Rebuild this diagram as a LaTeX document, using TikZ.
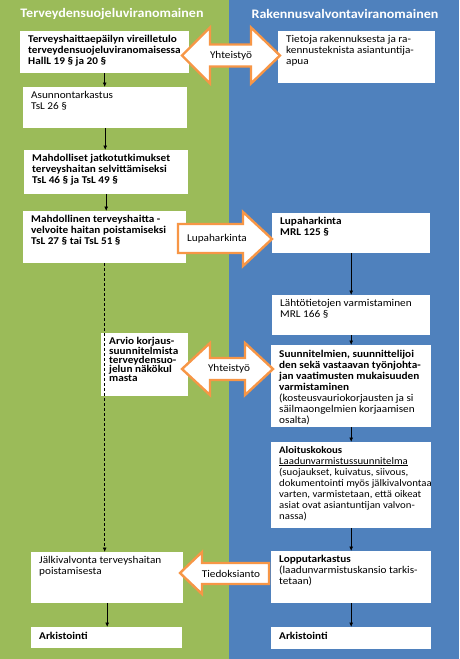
\documentclass[tikz,border=0pt]{standalone}
\usepackage{fontspec}
\setmainfont{Carlito}[FakeStretch=1.08]
\usetikzlibrary{arrows.meta}
\definecolor{grn}{HTML}{9BBB59}
\definecolor{blu}{HTML}{4F81BD}
\definecolor{org}{HTML}{F79646}
\newcommand\tb[3]{\parbox[c][#2][t]{#1}{\raggedright #3}}
\newcommand\LLn[1]{\mbox{#1}}
\begin{document}
\begin{tikzpicture}[x=1pt,y=-1pt,
  box/.style={fill=white, anchor=north west, inner xsep=8pt, inner ysep=4pt, font=\fontsize{10.4}{11}\selectfont},
  conn/.style={draw=black, line width=0.8pt, -{Latex[length=4.5pt,width=4pt]}},
  dconn/.style={conn, dash pattern=on 3pt off 2pt},
  fat/.style={draw=org, line width=2.4pt, fill=white, line join=miter},
  fattext/.style={font=\fontsize{10.4}{11}\selectfont, inner sep=0pt},
  head/.style={font=\fontsize{13}{15}\selectfont\bfseries, text=white}]
\useasboundingbox (0,0) rectangle (459,659);
\fill[grn] (0,0) rectangle (229,659);
\fill[blu] (229,0) rectangle (459,659);
\node[head] (hl) at (112,14) {Terveydensuojeluviranomainen};
\node[head] (hr) at (345,14) {Rakennusvalvontaviranomainen};
% left column
\node[box] (L1) at (20,31) {\tb{153pt}{34pt}{\bfseries \LLn{Terveyshaittaepäilyn vireilletulo}\\ \LLn{terveydensuojeluviranomaisessa}\\ \LLn{HallL 19 § ja 20 §}}};
\node[box] (L2) at (23,87) {\tb{148pt}{33pt}{Asunnontarkastus\\ TsL 26 §}};
\node[box] (L3) at (24,150) {\tb{148pt}{36pt}{\bfseries \LLn{Mahdolliset jatkotutkimukset}\\ \LLn{terveyshaitan selvittämiseksi}\\ \LLn{TsL 46 § ja TsL 49 §}}};
\node[box] (L4) at (23,211) {\tb{147pt}{44pt}{\bfseries \LLn{Mahdollinen terveyshaitta -}\\ \LLn{velvoite haitan poistamiseksi}\\ \LLn{TsL 27 § tai TsL 51 §}}};
\node[box, font=\fontsize{10.4}{9}\selectfont] (L5) at (101,333) {\tb{71pt}{55pt}{\bfseries \LLn{Arvio korjaus-}\\ \LLn{suunnitelmista}\\ \LLn{terveydensuo-}\\ \LLn{jelun näkökul}\\ \LLn{masta}}};
\node[box] (L6) at (31,552) {\tb{136pt}{43pt}{\LLn{Jälkivalvonta terveyshaitan}\\ \LLn{poistamisesta}}};
\node[box, inner ysep=5pt] (L7) at (31,627) {\tb{135pt}{11pt}{\bfseries Arkistointi}};
% right column
\node[box] (R1) at (278,31) {\tb{141pt}{44pt}{\LLn{Tietoja rakennuksesta ja ra-}\\ \LLn{kennusteknista asiantuntija-}\\ \LLn{apua}}};
\node[box] (R2) at (272,213) {\tb{142pt}{32pt}{\bfseries Lupaharkinta\\ MRL 125 §}};
\node[box] (R3) at (272,295) {\tb{142pt}{32pt}{\LLn{Lähtötietojen varmistaminen}\\ \LLn{MRL 166 §}}};
\node[box, inner ysep=5pt] (R4) at (271,345) {\tb{144pt}{72pt}{\bfseries \LLn{Suunnitelmien, suunnittelijoi}\\ \LLn{den sekä vastaavan työnjohta-}\\ \LLn{jan vaatimusten mukaisuuden}\\ \LLn{varmistaminen}\\ \mdseries \LLn{(kosteusvauriokorjausten ja si}\\ \LLn{säilmaongelmien korjaamisen}\\ \LLn{osalta)}}};
\node[box, font=\fontsize{10}{11}\selectfont] (R5) at (271,442) {\tb{144pt}{78pt}{\LLn{\textbf{Aloituskokous}}\\ \LLn{\underline{Laadunvarmistussuunnitelma}}\\ \LLn{(suojaukset, kuivatus, siivous,}\\ \LLn{dokumentointi myös jälkivalvontaa}\\ \LLn{varten, varmistetaan, että oikeat}\\ \LLn{asiat ovat asiantuntijan valvon-}\\ \LLn{nassa)}}};
\node[box] (R6) at (271,551) {\tb{144pt}{44pt}{\LLn{\textbf{Lopputarkastus}}\\ \LLn{(laadunvarmistuskansio tarkis-}\\ \LLn{tetaan)}}};
\node[box, inner ysep=5pt] (R7) at (271,627) {\tb{144pt}{12pt}{\bfseries Arkistointi}};
% connectors
\draw[conn] (L1.south) -- (L1.south |- L2.north);
\draw[conn] (L2.south) -- (L2.south |- L3.north);
\draw[conn] (L3.south) -- (L3.south |- L4.north);
\draw[dconn] (L4.south) -- (L4.south |- L6.north);
\draw[conn] (L6.south) -- (L6.south |- L7.north);
\draw[conn] (R2.south) -- (R2.south |- R3.north);
\draw[conn] (R3.south) -- (R3.south |- R4.north);
\draw[conn] (R4.south) -- (R4.south |- R5.north);
\draw[conn] (R5.south) -- (R5.south |- R6.north);
\draw[conn] (R6.south) -- (R6.south |- R7.north);
% block arrows
\draw[fat] (182,55.5) -- (210,27.5) -- (210,44.5) -- (251,44.5) -- (251,27.5) -- (280,55.5) -- (251,83.5) -- (251,66.5) -- (210,66.5) -- (210,83.5) -- cycle;
\node[fattext] (a1) at (231,55.5) {Yhteistyö};
\draw[fat] (178,224) -- (243,224) -- (243,212) -- (272,239) -- (243,266) -- (243,253) -- (178,253) -- cycle;
\node[fattext] (a2) at (217,239) {Lupaharkinta};
\draw[fat] (182,369) -- (210,343) -- (210,358) -- (245,358) -- (245,343) -- (273,369) -- (245,395) -- (245,380) -- (210,380) -- (210,395) -- cycle;
\node[fattext] (a3) at (229,369) {Yhteistyö};
\draw[fat] (180,573) -- (202,552) -- (202,563) -- (269,563) -- (269,584) -- (202,584) -- (202,594) -- cycle;
\node[fattext] (a4) at (231,573.5) {Tiedoksianto};
\end{tikzpicture}
\end{document}
